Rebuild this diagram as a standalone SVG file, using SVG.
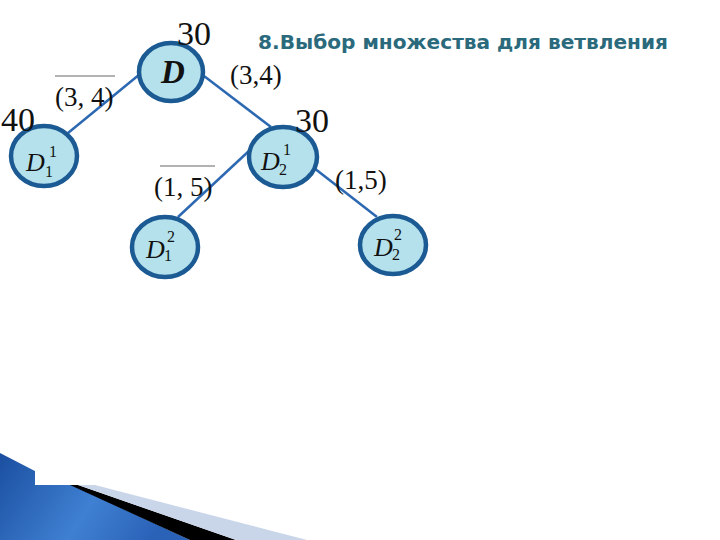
<svg xmlns="http://www.w3.org/2000/svg" width="720" height="540" viewBox="0 0 720 540">
<defs>
<linearGradient id="bg" x1="0" y1="0" x2="1" y2="0.3">
<stop offset="0" stop-color="#1b4fa0"/>
<stop offset="0.6" stop-color="#3f80d2"/>
<stop offset="1" stop-color="#2a62b8"/>
</linearGradient>
<style>
.node{fill:#b4e1ec;stroke:#1b5a93;stroke-width:4.5}
.edge{stroke:#2d69b2;stroke-width:2.5;fill:none}
.num{font-family:"Liberation Serif","Times New Roman",serif;font-size:34px;fill:#111}
.lab{font-family:"Liberation Serif",serif;font-size:27px;fill:#111}
.ov{stroke:#999;stroke-width:1.5}
.nd{font-family:"Liberation Serif",serif;font-style:italic;font-size:26px;fill:#111}
.big{font-size:33px;font-weight:bold}
.ix{font-family:"Liberation Serif",serif;font-size:16px;fill:#111}
.title{font-family:"DejaVu Sans","Noto Sans",sans-serif;font-size:19px;font-weight:bold;fill:#2a6a7c}
</style>
</defs>
<rect width="720" height="540" fill="#fff"/>
<g id="decor">
<polygon points="0,453 62,485 72,485 190,540 0,540" fill="url(#bg)"/>
<polygon points="70,485 78,485 236,540 190,540" fill="#000"/>
<polygon points="78,485 95,485 307,540 236,540" fill="#c9d6ea"/>
<rect x="35" y="440" width="60" height="45" fill="#fff"/>
</g>
<text class="title" x="258" y="49" textLength="410" lengthAdjust="spacingAndGlyphs">8.Выбор множества для ветвления</text>
<g id="connectors">
<line class="edge" x1="140" y1="74" x2="68" y2="133"/>
<line class="edge" x1="204" y1="76" x2="271" y2="127"/>
<line class="edge" x1="250" y1="150" x2="178" y2="217"/>
<line class="edge" x1="314" y1="168" x2="377" y2="217"/>
</g>
<g id="edge-labels">
<line class="ov" x1="55" y1="76" x2="115" y2="76"/>
<text class="lab" x="55" y="106">(3, 4)</text>
<text class="lab" x="230" y="84">(3,4)</text>
<line class="ov" x1="160" y1="166" x2="215" y2="166"/>
<text class="lab" x="154" y="196">(1, 5)</text>
<text class="lab" x="335" y="189">(1,5)</text>
</g>
<g id="node-D">
<ellipse class="node" cx="171" cy="72" rx="32" ry="29"/>
<text class="nd big" x="173" y="83" text-anchor="middle">D</text>
<text class="num" x="177" y="45">30</text>
</g>
<g id="node-D11">
<ellipse class="node" cx="44" cy="156" rx="33" ry="30"/>
<text class="nd" x="26" y="171">D</text>
<text class="ix" x="49" y="157">1</text>
<text class="ix" x="45" y="177">1</text>
<text class="num" x="1" y="131">40</text>
</g>
<g id="node-D21">
<ellipse class="node" cx="283" cy="157" rx="34" ry="30"/>
<text class="nd" x="261" y="170">D</text>
<text class="ix" x="283" y="155">1</text>
<text class="ix" x="279" y="175">2</text>
<text class="num" x="295" y="132">30</text>
</g>
<g id="node-D12">
<ellipse class="node" cx="165" cy="247" rx="33" ry="30"/>
<text class="nd" x="146" y="258">D</text>
<text class="ix" x="167" y="242">2</text>
<text class="ix" x="164" y="261">1</text>
</g>
<g id="node-D22">
<ellipse class="node" cx="393" cy="245" rx="33" ry="29"/>
<text class="nd" x="374" y="256">D</text>
<text class="ix" x="394" y="240">2</text>
<text class="ix" x="392" y="260">2</text>
</g>
</svg>
